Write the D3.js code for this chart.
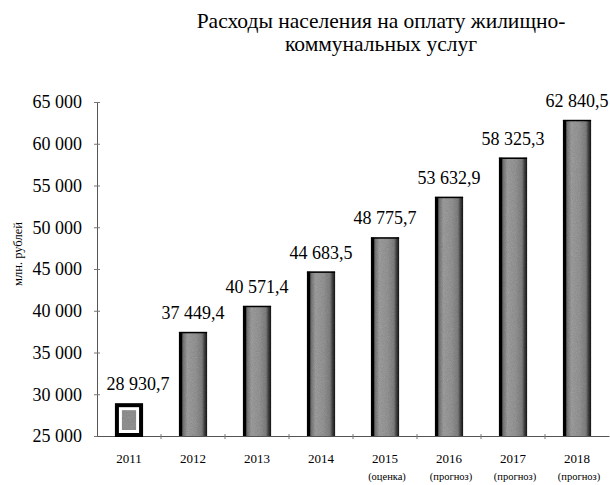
<!DOCTYPE html>
<html><head><meta charset="utf-8">
<script src="https://cdn.jsdelivr.net/npm/d3@7"></script>
<style>body{margin:0;background:#fff}svg{display:block}</style>
</head><body>
<script>
const years = ["2011","2012","2013","2014","2015","2016","2017","2018"];
const notes = ["","","","","(оценка)","(прогноз)","(прогноз)","(прогноз)"];
const values = [28930.7, 37449.4, 40571.4, 44683.5, 48775.7, 53632.9, 58325.3, 62840.5];
const yTicks = [25000,30000,35000,40000,45000,50000,55000,60000,65000];
const titleLines = ["Расходы населения на оплату жилищно-","коммунальных услуг"];
const yTitle = "млн. рублей";

const W=610,H=485;
const svg=d3.select("body").append("svg").attr("width",W).attr("height",H);
const font="'Liberation Serif','Times New Roman',serif";
const loc=d3.formatLocale({decimal:",",thousands:"\u00a0",grouping:[3],currency:["",""]});
const fVal=loc.format(",.1f"), fTick=loc.format(",d");

const x=d3.scaleBand().domain(years).range([97,609]).paddingInner(0.56).paddingOuter(0.28);
const y=d3.scaleLinear().domain([25000,65000]).range([436,102]);

const defs=svg.append("defs");
const g=defs.append("linearGradient").attr("id","bg");
[[0,"#000"],[0.1,"#111"],[0.14,"#777"],[0.3,"#a6a6a6"],[0.6,"#9c9c9c"],[0.82,"#858585"],[0.9,"#4a4a4a"],[1,"#1a1a1a"]]
 .forEach(s=>g.append("stop").attr("offset",s[0]).attr("stop-color",s[1]));
const flt=defs.append("filter").attr("id","grain").attr("x",0).attr("y",0).attr("width",1).attr("height",1);
flt.append("feTurbulence").attr("type","fractalNoise").attr("baseFrequency",1.2).attr("numOctaves",1).attr("seed",3).attr("result","n");
flt.append("feColorMatrix").attr("in","n").attr("type","matrix")
 .attr("values","0 0 0 0 0  0 0 0 0 0  0 0 0 0 0  0 0 0 0.35 0").attr("result","na");
flt.append("feComposite").attr("in","na").attr("in2","SourceGraphic").attr("operator","in").attr("result","nb");
flt.append("feMerge").selectAll("feMergeNode").data(["SourceGraphic","nb"]).join("feMergeNode").attr("in",d=>d);

// title
svg.append("text").attr("font-family",font).attr("font-size",21.5).attr("text-anchor","middle")
 .selectAll("tspan").data(titleLines).join("tspan").attr("x",381).attr("y",(d,i)=>28+i*23).text(d=>d);

// y axis
const ya=svg.append("g").attr("transform","translate(97,0)")
 .call(d3.axisLeft(y).tickValues(yTicks).tickFormat(fTick).tickSize(3).tickPadding(12));
ya.select(".domain").attr("stroke","#555");
ya.selectAll(".tick line").attr("stroke","#777").attr("x2",3).attr("x1",-3);
ya.selectAll(".tick text").attr("font-family",font).attr("font-size",18).attr("fill","#000");

svg.append("text").attr("transform","translate(22,254) rotate(-90)").attr("text-anchor","middle")
 .attr("font-family",font).attr("font-size",12.5).text(yTitle);

// x axis
const xa=svg.append("g").attr("transform","translate(0,436)")
 .call(d3.axisBottom(x).tickSize(0).tickPadding(18));
xa.select(".domain").attr("stroke","#555");
xa.selectAll(".tick text").attr("font-family",font).attr("font-size",13).attr("fill","#000");
svg.append("g").selectAll("line").data(years.slice(1)).join("line")
 .attr("x1",d=>x(d)-x.step()*x.paddingInner()/2).attr("x2",d=>x(d)-x.step()*x.paddingInner()/2)
 .attr("y1",434).attr("y2",439).attr("stroke","#777");
svg.append("g").selectAll("text").data(notes).join("text")
 .attr("x",(d,i)=>x(years[i])+x.bandwidth()/2+2).attr("y",480).attr("text-anchor","middle")
 .attr("font-family",font).attr("font-size",10.5).text(d=>d);

// bars
const bars=svg.append("g");
values.forEach((v,i)=>{
  const bx=x(years[i]), bw=x.bandwidth(), by=y(v), bh=y(25000)-by;
  if(i===0){
    bars.append("rect").attr("x",bx+2).attr("y",by+2).attr("width",bw-4).attr("height",bh-3)
      .attr("fill","#fff").attr("stroke","#000").attr("stroke-width",4);
    bars.append("rect").attr("x",bx+7).attr("y",by+7).attr("width",bw-14).attr("height",bh-13)
      .attr("fill","#9a9a9a").attr("filter","url(#grain)");
  } else {
    bars.append("rect").attr("x",bx).attr("y",by).attr("width",bw).attr("height",bh)
      .attr("fill","url(#bg)").attr("filter","url(#grain)");
    bars.append("line").attr("x1",bx).attr("x2",bx+bw).attr("y1",by+0.5).attr("y2",by+0.5)
      .attr("stroke","#000").attr("stroke-width",1.5);
  }
});

// value labels
svg.append("g").selectAll("text").data(values).join("text")
 .attr("x",(d,i)=>x(years[i])+x.bandwidth()/2+(i===0?9:0)).attr("y",d=>y(d)-13)
 .attr("text-anchor","middle").attr("font-family",font).attr("font-size",18).text(d=>fVal(d));
</script>
</body></html>
